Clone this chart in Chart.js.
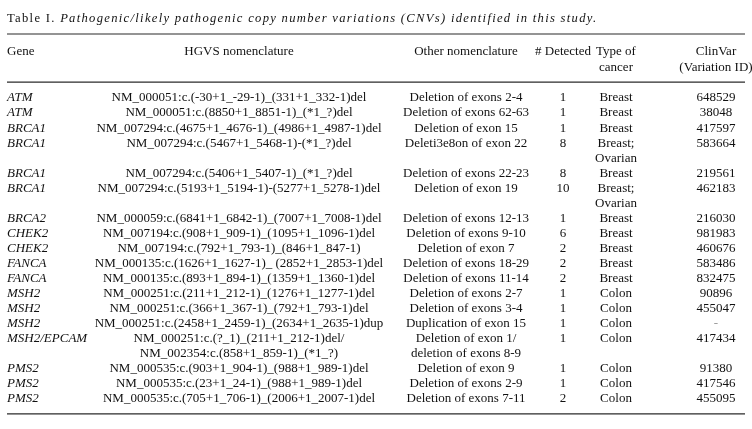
<!DOCTYPE html>
<html>
<head>
<meta charset="utf-8">
<script src="https://cdn.jsdelivr.net/npm/chart.js@4.4.0/dist/chart.umd.min.js"></script>
<style>
  html, body { margin: 0; padding: 0; background: #fff; }
  #wrap { width: 752px; height: 429px; position: relative; }
</style>
</head>
<body>
<div id="wrap"><canvas id="cnvTable"></canvas></div>
<script>
// table contents
const titleLabel = 'Table I. ';
const titleText = 'Pathogenic/likely pathogenic copy number variations (CNVs) identified in this study.';
const headers = [['Gene'], ['HGVS nomenclature'], ['Other nomenclature'], ['# Detected'], ['Type of', 'cancer'], ['ClinVar', '(Variation ID)']];

const genes = ['ATM', 'ATM', 'BRCA1', 'BRCA1', 'BRCA1', 'BRCA1', 'BRCA2', 'CHEK2', 'CHEK2', 'FANCA', 'FANCA',
    'MSH2', 'MSH2', 'MSH2', 'MSH2/EPCAM', 'PMS2', 'PMS2', 'PMS2'];
const hgvs = [
    'NM_000051:c.(-30+1_-29-1)_(331+1_332-1)del',
    'NM_000051:c.(8850+1_8851-1)_(*1_?)del',
    'NM_007294:c.(4675+1_4676-1)_(4986+1_4987-1)del',
    'NM_007294:c.(5467+1_5468-1)-(*1_?)del',
    'NM_007294:c.(5406+1_5407-1)_(*1_?)del',
    'NM_007294:c.(5193+1_5194-1)-(5277+1_5278-1)del',
    'NM_000059:c.(6841+1_6842-1)_(7007+1_7008-1)del',
    'NM_007194:c.(908+1_909-1)_(1095+1_1096-1)del',
    'NM_007194:c.(792+1_793-1)_(846+1_847-1)',
    'NM_000135:c.(1626+1_1627-1)_ (2852+1_2853-1)del',
    'NM_000135:c.(893+1_894-1)_(1359+1_1360-1)del',
    'NM_000251:c.(211+1_212-1)_(1276+1_1277-1)del',
    'NM_000251:c.(366+1_367-1)_(792+1_793-1)del',
    'NM_000251:c.(2458+1_2459-1)_(2634+1_2635-1)dup',
    'NM_000251:c.(?_1)_(211+1_212-1)del/\nNM_002354:c.(858+1_859-1)_(*1_?)',
    'NM_000535:c.(903+1_904-1)_(988+1_989-1)del',
    'NM_000535:c.(23+1_24-1)_(988+1_989-1)del',
    'NM_000535:c.(705+1_706-1)_(2006+1_2007-1)del'
];
const otherNomenclature = ['Deletion of exons 2-4', 'Deletion of exons 62-63', 'Deletion of exon 15', 'Deleti3e8on of exon 22',
    'Deletion of exons 22-23', 'Deletion of exon 19', 'Deletion of exons 12-13', 'Deletion of exons 9-10', 'Deletion of exon 7',
    'Deletion of exons 18-29', 'Deletion of exons 11-14', 'Deletion of exons 2-7', 'Deletion of exons 3-4', 'Duplication of exon 15',
    'Deletion of exon 1/\ndeletion of exons 8-9', 'Deletion of exon 9', 'Deletion of exons 2-9', 'Deletion of exons 7-11'];
const detected = [1, 1, 1, 8, 8, 10, 1, 6, 2, 2, 2, 1, 1, 1, 1, 1, 1, 2];
const cancerType = ['Breast', 'Breast', 'Breast', 'Breast;\nOvarian', 'Breast', 'Breast;\nOvarian', 'Breast', 'Breast', 'Breast',
    'Breast', 'Breast', 'Colon', 'Colon', 'Colon', 'Colon', 'Colon', 'Colon', 'Colon'];
const clinvarIds = ['648529', '38048', '417597', '583664', '219561', '462183', '216030', '981983', '460676', '583486', '832475',
    '90896', '455047', '-', '417434', '91380', '417546', '455095'];

// layout (x in page pixels, y in text lines)
const colX = [7, 239, 466, 563, 616, 716];
const colAlign = ['left', 'center', 'center', 'center', 'center', 'center'];
const serif = '"Liberation Serif", "DejaVu Serif", serif';
const fontSize = 13;

const columns = [genes, hgvs, otherNomenclature, detected, cancerType, clinvarIds];

// line index where each row starts
const rowStart = [];
let nextLine = 0;
genes.forEach((g, i) => {
    rowStart.push(nextLine);
    nextLine += Math.max(...columns.map(c => String(c[i]).split('\n').length));
});
const lastLine = nextLine - 1;

const ruleLevels = [-4.25, -1.06, lastLine + 0.98];
const ruleDatasets = ruleLevels.map(y => ({
    type: 'line',
    data: [{ x: 7, y: y }, { x: 745, y: y }],
    borderColor: '#2b2b2b',
    borderWidth: 1.2,
    pointRadius: 0,
    showLine: true
}));

const tableText = {
    id: 'tableText',
    afterDatasetsDraw(chart) {
        const ctx = chart.ctx;
        const xs = chart.scales.x, ys = chart.scales.y;
        ctx.save();
        ctx.fillStyle = '#111';
        ctx.textBaseline = 'middle';

        // title, set with wide letter spacing
        ctx.textAlign = 'left';
        ctx.letterSpacing = '1.3px';
        ctx.font = '12.6px ' + serif;
        const ty = ys.getPixelForValue(-5.3);
        ctx.fillText(titleLabel, xs.getPixelForValue(7), ty);
        const w = ctx.measureText(titleLabel).width;
        ctx.font = 'italic 12.6px ' + serif;
        ctx.fillText(titleText, xs.getPixelForValue(7) + w, ty);
        ctx.letterSpacing = '0px';

        // headers
        ctx.font = fontSize + 'px ' + serif;
        headers.forEach((lines, c) => {
            ctx.textAlign = colAlign[c];
            lines.forEach((t, k) => {
                ctx.fillText(t, xs.getPixelForValue(colX[c]), ys.getPixelForValue(-3.06 + k * 1.06));
            });
        });

        // body
        columns.forEach((col, c) => {
            ctx.textAlign = colAlign[c];
            ctx.font = (c === 0 ? 'italic ' : '') + fontSize + 'px ' + serif;
            col.forEach((val, r) => {
                String(val).split('\n').forEach((t, k) => {
                    ctx.fillStyle = t === '-' ? '#999' : '#111';
                    ctx.fillText(t, xs.getPixelForValue(colX[c]), ys.getPixelForValue(rowStart[r] + k));
                });
            });
        });
        ctx.restore();
    }
};

new Chart(document.getElementById('cnvTable'), {
    type: 'scatter',
    data: { datasets: ruleDatasets },
    options: {
        responsive: true,
        maintainAspectRatio: false,
        animation: false,
        layout: { padding: 0 },
        plugins: { legend: { display: false }, tooltip: { enabled: false } },
        scales: {
            x: { type: 'linear', display: false, min: 0, max: 752 },
            y: { type: 'linear', display: false, reverse: true, min: -6.51, max: 21.99 }
        }
    },
    plugins: [tableText]
});
</script>
</body>
</html>
